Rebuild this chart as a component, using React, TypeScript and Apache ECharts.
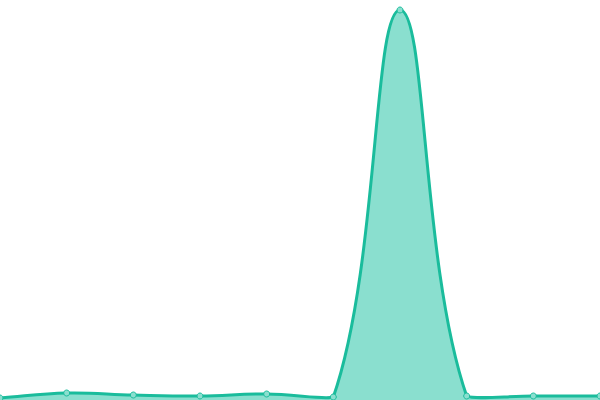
import React, { useEffect, useRef } from "react";
import * as echarts from "echarts";

const categories = ["1", "2", "3", "4", "5", "6", "7", "8", "9", "10"];
const values = [2, 7, 5, 4, 6, 3, 390, 4, 4, 4];

const LINE = "#1ABC9C";
const FILL = "#8ADFCF";
const TENSION = 0.4;

type P = { x: number; y: number };

function buildPath(pts: P[], area: { l: number; r: number; t: number; b: number }) {
  const cps: { prev: P; next: P }[] = [];
  for (let i = 0; i < pts.length; i++) {
    const cur = pts[i];
    const prev = i > 0 ? pts[i - 1] : cur;
    const next = i < pts.length - 1 ? pts[i + 1] : cur;
    const d01 = Math.hypot(cur.x - prev.x, cur.y - prev.y);
    const d12 = Math.hypot(next.x - cur.x, next.y - cur.y);
    let s01 = d01 / (d01 + d12);
    let s12 = d12 / (d01 + d12);
    if (isNaN(s01)) s01 = 0;
    if (isNaN(s12)) s12 = 0;
    const fa = TENSION * s01;
    const fb = TENSION * s12;
    const clampX = (v: number) => Math.min(Math.max(v, area.l), area.r);
    const clampY = (v: number) => Math.min(Math.max(v, area.t), area.b);
    cps.push({
      prev: {
        x: clampX(cur.x - fa * (next.x - prev.x)),
        y: clampY(cur.y - fa * (next.y - prev.y)),
      },
      next: {
        x: clampX(cur.x + fb * (next.x - prev.x)),
        y: clampY(cur.y + fb * (next.y - prev.y)),
      },
    });
  }
  let d = `M${pts[0].x},${pts[0].y}`;
  for (let i = 1; i < pts.length; i++) {
    const a = cps[i - 1].next;
    const b = cps[i].prev;
    d += ` C${a.x},${a.y} ${b.x},${b.y} ${pts[i].x},${pts[i].y}`;
  }
  return d;
}

export default function App() {
  const ref = useRef<HTMLDivElement>(null);
  useEffect(() => {
    const chart = echarts.init(ref.current!, null, { renderer: "svg" });
    chart.setOption({
      animation: false,
      grid: { left: 0, right: 0, top: 0, bottom: 0 },
      xAxis: { type: "category", data: categories, boundaryGap: false, show: false },
      yAxis: { type: "value", min: 0, max: 400, show: false },
      series: [
        {
          type: "custom",
          data: values.map((v, i) => [i, v]),
          z: 1,
          renderItem: (params: any, api: any) => {
            if (params.dataIndex !== 0) return null;
            const cs = params.coordSys;
            const area = { l: cs.x, r: cs.x + cs.width, t: cs.y, b: cs.y + cs.height };
            const pts: P[] = values.map((v, i) => {
              const c = api.coord([i, v]);
              return { x: c[0], y: c[1] };
            });
            const base = api.coord([0, 0])[1];
            const line = buildPath(pts, area);
            const last = pts[pts.length - 1];
            const fillPath = `${line} L${last.x},${base} L${pts[0].x},${base} Z`;
            return {
              type: "group",
              children: [
                {
                  type: "path",
                  shape: { pathData: fillPath },
                  style: { fill: FILL, stroke: null },
                },
                {
                  type: "path",
                  shape: { pathData: line },
                  style: { fill: null, stroke: LINE, lineWidth: 3 },
                },
              ],
            };
          },
        },
        {
          type: "scatter",
          data: values,
          z: 3,
          symbol: "circle",
          symbolSize: 6,
          itemStyle: { color: FILL, borderColor: LINE, borderWidth: 1, opacity: 1 },
        },
      ],
    });
    return () => chart.dispose();
  }, []);
  return (
    <div
      ref={ref}
      style={{ position: "fixed", left: 0, top: 0, width: 600, height: 400 }}
    />
  );
}
